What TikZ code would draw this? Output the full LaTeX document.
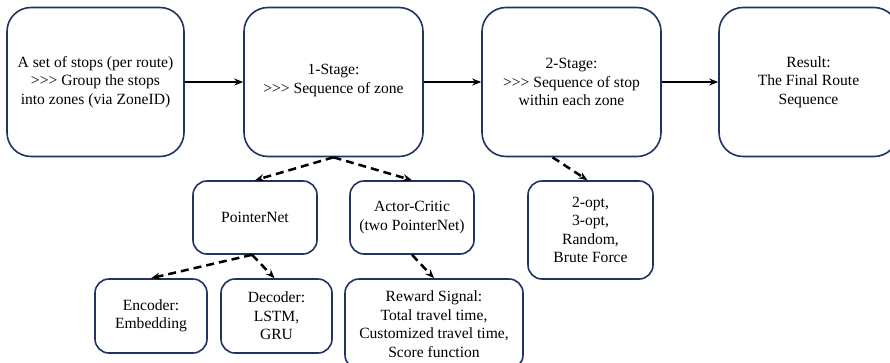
\documentclass[tikz,border=0pt]{standalone}
\usepackage{fontspec}
\setmainfont[Ligatures=NoCommon]{Liberation Serif}
\usetikzlibrary{arrows.meta}
\definecolor{boxline}{HTML}{1F3560}
\newcommand{\ggg}{{>}{>}{>}}
\tikzset{
  bigbox/.style={draw=boxline, line width=1.6pt, rounded corners=24pt,
    minimum width=177pt, minimum height=149pt, align=center,
    font=\fontsize{15.6pt}{18.5pt}\selectfont, inner sep=2pt},
  smallbox/.style={draw=boxline, line width=1.6pt, rounded corners=14pt,
    align=center, font=\fontsize{15.6pt}{18.5pt}\selectfont, inner sep=2pt},
  flow/.style={line width=2.5pt, -{Stealth[length=9pt,width=7pt]}},
  branch/.style={line width=2.5pt, dash pattern=on 8pt off 5pt,
    -{Stealth[length=9pt,width=7pt]}}
}
\begin{document}
\begin{tikzpicture}[x=1pt,y=-1pt]
\useasboundingbox (0,0) rectangle (890,362);
\clip (0,0) rectangle (890,362);
% top row
\node[bigbox] (src) at (95.5,82) {A set of stops (per route)\\\ggg{} Group the stops\\into zones (via ZoneID)};
\node[bigbox, minimum width=179pt, text depth=6pt] (stage1) at (333.5,82) {1-Stage:\\\ggg{} Sequence of zone};
\node[bigbox, minimum width=179pt] (stage2) at (571.5,82) {2-Stage:\\\ggg{} Sequence of stop\\within each zone};
\node[bigbox, minimum width=179pt] (result) at (808.5,82) {Result:\\The Final Route\\Sequence};
% second row
\node[smallbox, minimum width=124pt, minimum height=73pt] (ptr) at (255,217.5) {PointerNet};
\node[smallbox, minimum width=124pt, minimum height=73pt] (ac) at (412,217.5) {Actor-Critic\\(two PointerNet)};
\node[smallbox, minimum width=125pt, minimum height=98pt] (opt) at (590.5,230) {2-opt,\\3-opt,\\Random,\\Brute Force};
% third row
\node[smallbox, minimum width=112pt, minimum height=74pt] (enc) at (151,316) {Encoder:\\Embedding};
\node[smallbox, minimum width=111pt, minimum height=74pt] (dec) at (276.5,316) {Decoder:\\LSTM,\\GRU};
\node[smallbox, minimum width=178pt, minimum height=90pt] (rew) at (434,324) {Reward Signal:\\Total travel time,\\Customized travel time,\\Score function};
% main flow
\draw[flow] (src.east) -- (stage1.west |- src.east);
\draw[flow] (stage1.east |- src.east) -- (stage2.west);
\draw[flow] (stage2.east) -- (result.west);
% branches
\draw[branch] (stage1.south) -- (ptr.north);
\draw[branch] (stage1.south) -- (ac.north);
\draw[branch] ([xshift=-3pt]ptr.south) -- (enc.north);
\draw[branch] ([xshift=-3pt]ptr.south) -- ([xshift=-2pt]dec.north);
\draw[branch] (ac.south) -- (rew.north);
\draw[branch] ([xshift=-19pt]stage2.south) -- ([xshift=-3pt]opt.north);
\end{tikzpicture}
\end{document}
